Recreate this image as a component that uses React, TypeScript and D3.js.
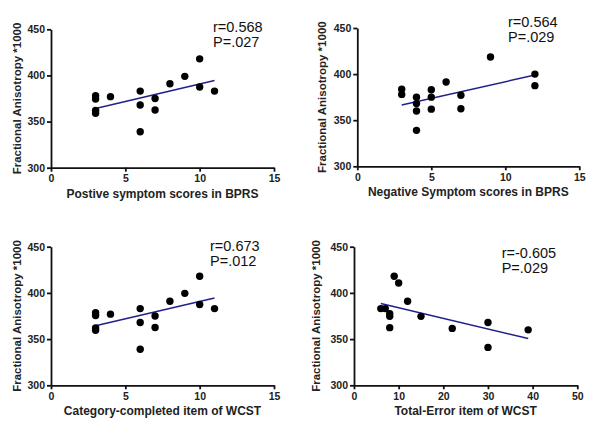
import React, { useRef, useEffect } from "react";
import * as d3 from "d3";

// FA values (x1000) and clinical scores
const faTicks = [300, 350, 400, 450];
const scoreTicks = [0, 5, 10, 15];
const errorTicks = [0, 10, 20, 30, 40, 50];

const positiveScore = [3, 3, 3, 3, 4, 6, 6, 6, 7, 7, 8, 9, 10, 10, 11];
const positiveFA = [378, 374.5, 362, 359, 377, 383, 368, 339, 375, 362.5, 391, 399, 418, 387.5, 383];

const negativeScore = [3, 3, 4, 4, 4, 4, 5, 5, 5, 6, 7, 7, 9, 12, 12];
const negativeFA = [383.5, 378, 375, 368, 360, 339, 383, 375, 362, 391.5, 377, 362.5, 418.5, 400, 387.5];

const categoryScore = [3, 3, 3, 3, 4, 6, 6, 6, 7, 7, 8, 9, 10, 10, 11];
const categoryFA = [378.5, 375.5, 362, 359.5, 377, 383, 368, 339, 375, 362.5, 391, 399.5, 418, 387.5, 383];

const errorScore = [6, 7, 8, 8, 8, 9, 10, 12, 15, 22, 30, 30, 39];
const errorFA = [383, 383, 377.5, 374.6, 362.4, 418, 410.7, 391, 374.6, 361.6, 368, 341, 360];

const xTitles = [
  "Postive symptom scores in BPRS",
  "Negative Symptom scores in BPRS",
  "Category-completed item of WCST",
  "Total-Error item of WCST",
];
const rLabels = ["r=0.568", "r=0.564", "r=0.673", "r=-0.605"];
const pLabels = ["P=.027", "P=.029", "P=.012", "P=.029"];
const yTitle = "Fractional Anisotropy *1000";

const panels = [
  { xs: positiveScore, ys: positiveFA, ticks: scoreTicks, box: { l: 51, r: 274, t: 29.3, b: 167.7 }, note: [213, 31.7], yOff: 34 },
  { xs: negativeScore, ys: negativeFA, ticks: scoreTicks, box: { l: 357.3, r: 579.3, t: 28, b: 166.3 }, note: [508, 26.7], yOff: 35 },
  { xs: categoryScore, ys: categoryFA, ticks: scoreTicks, box: { l: 51, r: 274, t: 246.7, b: 385.3 }, note: [210, 251], yOff: 34 },
  { xs: errorScore, ys: errorFA, ticks: errorTicks, box: { l: 354, r: 577.3, t: 246.7, b: 385.3 }, note: [501.7, 258.3], yOff: 38 },
];

const font = "Arial, 'Liberation Sans', sans-serif";

const App = () => {
  const ref = useRef<SVGSVGElement>(null);

  useEffect(() => {
    const svg = d3.select(ref.current);
    svg.selectAll("*").remove();

    panels.forEach((p, i) => {
      const x = d3
        .scaleLinear()
        .domain([p.ticks[0], p.ticks[p.ticks.length - 1]])
        .range([p.box.l, p.box.r]);
      const y = d3
        .scaleLinear()
        .domain([faTicks[0], faTicks[faTicks.length - 1]])
        .range([p.box.b, p.box.t]);

      const g = svg.append("g");

      // axes
      const xAxis = d3.axisBottom(x).tickValues(p.ticks).tickSize(4).tickSizeOuter(0).tickPadding(3);
      const yAxis = d3.axisLeft(y).tickValues(faTicks).tickSize(4).tickSizeOuter(0).tickPadding(2);

      [
        g.append("g").attr("transform", `translate(0,${p.box.b})`).call(xAxis),
        g.append("g").attr("transform", `translate(${p.box.l},0)`).call(yAxis),
      ].forEach((a) => {
        a.selectAll("path, line").attr("stroke", "#111").attr("stroke-width", 1.8);
        a.selectAll("text")
          .attr("font-family", font)
          .attr("font-size", 10.5)
          .attr("font-weight", "bold")
          .attr("fill", "#222");
      });

      // regression line
      const n = p.xs.length;
      const mx = d3.mean(p.xs)!;
      const my = d3.mean(p.ys)!;
      let sxy = 0;
      let sxx = 0;
      for (let k = 0; k < n; k++) {
        sxy += (p.xs[k] - mx) * (p.ys[k] - my);
        sxx += (p.xs[k] - mx) ** 2;
      }
      const slope = sxy / sxx;
      const [x0, x1] = d3.extent(p.xs) as [number, number];
      g.append("line")
        .attr("x1", x(x0))
        .attr("y1", y(my + slope * (x0 - mx)))
        .attr("x2", x(x1))
        .attr("y2", y(my + slope * (x1 - mx)))
        .attr("stroke", "#20208c")
        .attr("stroke-width", 1.5);

      // points
      g.selectAll("circle")
        .data(p.xs)
        .enter()
        .append("circle")
        .attr("cx", (d) => x(d))
        .attr("cy", (_, k) => y(p.ys[k]))
        .attr("r", 3.7)
        .attr("fill", "#000");

      // titles
      g.append("text")
        .attr("x", (p.box.l + p.box.r) / 2)
        .attr("y", p.box.b + 30)
        .attr("text-anchor", "middle")
        .attr("font-family", font)
        .attr("font-size", 12)
        .attr("font-weight", "bold")
        .attr("fill", "#222")
        .text(xTitles[i]);

      g.append("text")
        .attr("transform", `translate(${p.box.l - p.yOff},${(p.box.t + p.box.b) / 2}) rotate(-90)`)
        .attr("dy", "0.35em")
        .attr("text-anchor", "middle")
        .attr("font-family", font)
        .attr("font-size", 11.5)
        .attr("font-weight", "bold")
        .attr("fill", "#222")
        .text(yTitle);

      // correlation notes
      [rLabels[i], pLabels[i]].forEach((t, k) => {
        g.append("text")
          .attr("x", p.note[0])
          .attr("y", p.note[1] + k * 15)
          .attr("font-family", font)
          .attr("font-size", 14.5)
          .attr("fill", "#111")
          .text(t);
      });
    });
  }, []);

  return (
    <svg
      ref={ref}
      width={601}
      height={433}
      style={{ position: "absolute", left: 0, top: 0, background: "#fff" }}
    />
  );
};

export default App;
